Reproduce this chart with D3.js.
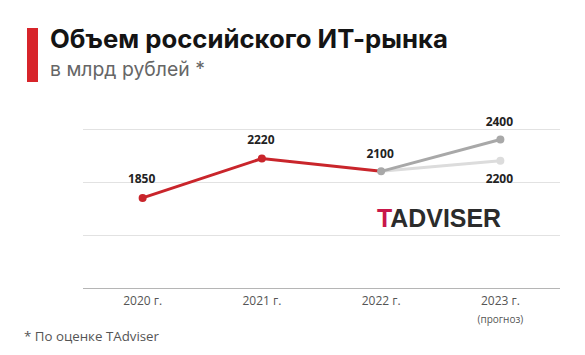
<!DOCTYPE html>
<html>
<head>
<meta charset="utf-8">
<script src="https://cdn.jsdelivr.net/npm/d3@7"></script>
<style>
  html, body { margin: 0; padding: 0; background: #fff; }
  svg { display: block; }
</style>
</head>
<body>
<svg id="chart" width="585" height="355"></svg>
<script>
const years = ["2020 г.", "2021 г.", "2022 г.", "2023 г."];
const yearNotes = ["", "", "", "(прогноз)"];
const actualValues = [1850, 2220, 2100, null];
const forecastHigh = [null, null, 2100, 2400];
const forecastLow = [null, null, 2100, 2200];
const gridTicks = [1000, 1500, 2000, 2500];

const svg = d3.select("#chart");

// Header
svg.append("rect").attr("x", 27).attr("y", 28).attr("width", 11).attr("height", 54).attr("fill", "#d7242a");
const title = svg.append("text").attr("x", 50).attr("y", 48)
  .attr("font-family", "Inter, 'Noto Sans', sans-serif").attr("font-weight", 700)
  .attr("font-size", 22).attr("fill", "#141414").text("Объем российского ИТ-рынка");
const sub = svg.append("text").attr("x", 50).attr("y", 76)
  .attr("font-family", "Inter, 'Noto Sans', sans-serif").attr("font-weight", 400)
  .attr("font-size", 18).attr("fill", "#666").text("в млрд рублей *");

function fitWidth(sel, target) {
  const w = sel.node().getComputedTextLength();
  const fs = parseFloat(sel.attr("font-size"));
  sel.attr("font-size", (fs * target / w).toFixed(2));
}
fitWidth(title, 398);
fitWidth(sub, 155);

const x = d3.scaleBand().domain(years).range([83, 560]).padding(0);
const y = d3.scaleLinear().domain([1000, 2500]).range([288.3, 128.8]);
const cx = d => x(d) + x.bandwidth() / 2;

// Grid
svg.append("g").selectAll("line").data(gridTicks).join("line")
  .attr("x1", 83).attr("x2", 560)
  .attr("y1", d => Math.round(y(d)) + 0.5).attr("y2", d => Math.round(y(d)) + 0.5)
  .attr("stroke", d => d === 1000 ? "#b5b5b5" : "#e2e2e2").attr("stroke-width", 1.2);

// Axis labels
const xAxis = d3.axisBottom(x).tickSize(0).tickPadding(0);
const ax = svg.append("g").attr("transform", "translate(0,296)").call(xAxis);
ax.select(".domain").remove();
ax.selectAll("text").attr("font-family", "'Open Sans', sans-serif").attr("font-size", 12)
  .attr("fill", "#555").attr("dy", "0.71em").attr("y", 0);
svg.append("g").selectAll("text").data(years.filter((d, i) => yearNotes[i])).join("text")
  .attr("x", d => cx(d)).attr("y", 323).attr("text-anchor", "middle")
  .attr("font-family", "'Open Sans', sans-serif").attr("font-size", 10).attr("fill", "#555")
  .text(d => yearNotes[years.indexOf(d)]);

// Logo
const logo = svg.append("text").attr("x", 377).attr("y", 226.5)
  .attr("font-family", "'Liberation Sans', Arial, sans-serif").attr("font-weight", 700)
  .attr("font-size", 24.5).attr("fill", "#2b2b2b");
logo.append("tspan").attr("fill", "#c8174a").text("T");
logo.append("tspan").text("ADVISER");
fitWidth(logo, 124);

// Lines
const line = d3.line().defined(d => d.v != null).x(d => cx(d.k)).y(d => y(d.v));
const mk = arr => years.map((k, i) => ({ k, v: arr[i] }));

svg.append("path").datum(mk(forecastLow)).attr("d", line)
  .attr("fill", "none").attr("stroke", "#dcdcdc").attr("stroke-width", 3);
svg.append("path").datum(mk(forecastHigh)).attr("d", line)
  .attr("fill", "none").attr("stroke", "#a8a8a8").attr("stroke-width", 3);
svg.append("path").datum(mk(actualValues)).attr("d", line)
  .attr("fill", "none").attr("stroke", "#c9252b").attr("stroke-width", 3);

const pts = [];
actualValues.forEach((v, i) => { if (v != null && i < 2) pts.push({ k: years[i], v, c: "#c9252b" }); });
pts.push({ k: years[2], v: forecastHigh[2], c: "#a8a8a8" });
pts.push({ k: years[3], v: forecastHigh[3], c: "#a8a8a8" });
pts.push({ k: years[3], v: forecastLow[3], c: "#dcdcdc" });
svg.append("g").selectAll("circle").data(pts).join("circle")
  .attr("cx", d => cx(d.k)).attr("cy", d => y(d.v)).attr("r", 4).attr("fill", d => d.c);

// Value labels
const labels = [
  { k: years[0], v: actualValues[0], off: -19 },
  { k: years[1], v: actualValues[1], off: -19 },
  { k: years[2], v: actualValues[2], off: -18 },
  { k: years[3], v: forecastHigh[3], off: -18 },
  { k: years[3], v: forecastLow[3], off: 18 }
];
svg.append("g").selectAll("text").data(labels).join("text")
  .attr("x", d => cx(d.k) - 1).attr("y", d => y(d.v) + d.off).attr("dy", "0.35em")
  .attr("text-anchor", "middle").attr("font-family", "'Open Sans', sans-serif")
  .attr("font-weight", 700).attr("font-size", 12).attr("fill", "#222").text(d => d.v);

// Footnote
const foot = svg.append("text").attr("x", 24).attr("y", 341)
  .attr("font-family", "'Open Sans', sans-serif").attr("font-size", 13).attr("fill", "#555")
  .text("* По оценке TAdviser");
fitWidth(foot, 135);
</script>
</body>
</html>
